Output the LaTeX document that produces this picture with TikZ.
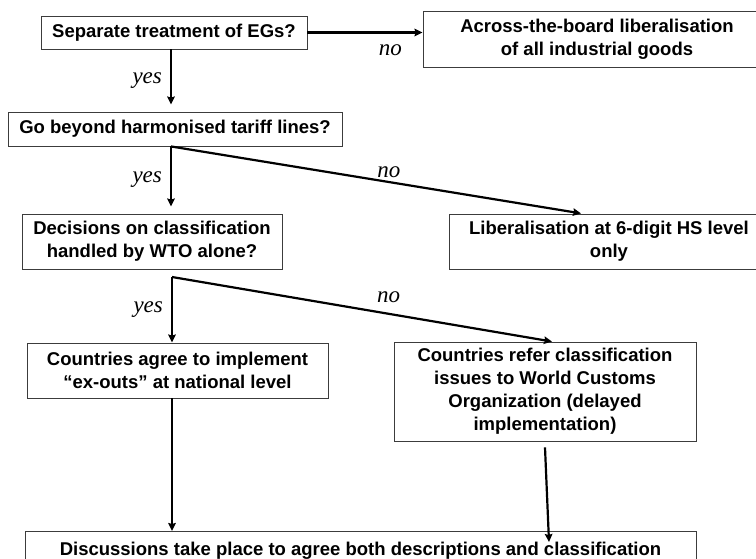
\documentclass[tikz,border=0pt]{standalone}
\usepackage{fontspec}
\setmainfont{Liberation Sans}
\newfontfamily\answerfont{Liberation Serif}
\usepackage{tikz}
\usetikzlibrary{arrows.meta, positioning}
\definecolor{framegray}{RGB}{60,60,60}
\tikzset{>={Stealth[length=8pt,width=7.5pt,inset=1pt]}}
\tikzset{
  box/.style={draw=framegray, line width=0.9pt, align=center, inner sep=0pt, font=\bfseries\fontsize{18.5}{23}\selectfont},
  flow/.style={->, line width=2.2pt},
  answer/.style={font=\answerfont\itshape\fontsize{23}{26}\selectfont, inner sep=3pt}
}

\begin{document}
\begin{tikzpicture}[x=1pt, y=-1pt]

  \clip (0,0) rectangle (756,559);

  \node [box, minimum width=266pt, minimum height=33pt] (sep) at (174,32.5) {Separate treatment of EGs?};
  \node [box, minimum width=348pt, minimum height=56pt] (across) at (597,39) {Across-the-board liberalisation\\of all industrial goods};
  \node [box, minimum width=334pt, minimum height=34pt] (beyond) at (175,129) {Go beyond harmonised tariff lines?};
  \node [box, minimum width=260pt, minimum height=55pt] (wto) at (152,241.5) {Decisions on classification\\handled by WTO alone?};
  \node [box, minimum width=320pt, minimum height=55pt] (hs) at (609,241.5) {Liberalisation at 6-digit HS level\\only};
  \node [box, minimum width=301pt, minimum height=55pt] (exouts) at (177.5,370.5) {Countries agree to implement\\“ex-outs” at national level};
  \node [box, minimum width=302pt, minimum height=99pt] (wco) at (545,391.5) {Countries refer classification\\issues to World Customs\\Organization (delayed\\implementation)};
  \node [box, anchor=north, minimum width=671pt, inner ysep=6pt, text height=18pt, text depth=40pt] (talks) at (360.5,531) {Discussions take place to agree both descriptions and classification};

  \coordinate (spine) at (171,0);
  \coordinate (fork1) at (beyond.south -| spine);
  \coordinate (fork2) at (172,277);
  \coordinate (wcodrop) at (talks.north -| wco.south);

  \draw [flow] (sep.east) -- node[answer, below=8pt, pos=0.72] {no} (sep.east -| across.west);
  \draw [flow, shorten >=7pt] (sep.south -| spine) -- node[answer, left=5pt] {yes} (beyond.north -| spine);

  \draw [flow, shorten >=7pt] (fork1) -- node[answer, left=5pt] {yes} (wto.north -| fork1);
  \draw [flow, shorten >=1pt] (fork1) -- node[answer, above, pos=0.53] {no} ([xshift=-27pt]hs.north);

  \draw [flow] (fork2) -- node[answer, left=5pt] {yes} (exouts.north -| fork2);
  \draw [flow] (fork2) -- node[answer, above=7pt, pos=0.57] {no} ([xshift=7pt]wco.north);

  \draw [flow] (exouts.south -| fork2) -- (talks.north -| fork2);
  \draw [flow] ([yshift=-6pt]wco.south) -- ([xshift=4pt,yshift=-11pt]wcodrop);

\end{tikzpicture}
\end{document}
